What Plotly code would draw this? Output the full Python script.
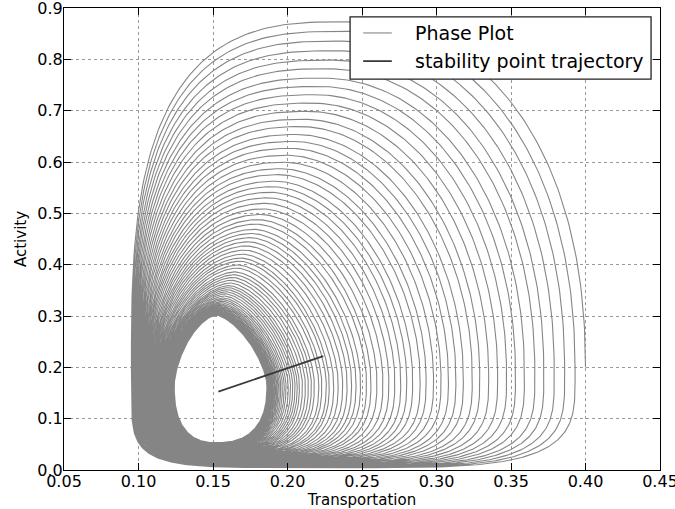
import numpy as np
import plotly.graph_objects as go

# Widest (right-hand) Transportation value of each successive turn of the orbit
turn_right = [
    0.400, 0.393, 0.386, 0.379, 0.372, 0.366, 0.359, 0.353, 0.347,
    0.341, 0.335, 0.329, 0.324, 0.318, 0.313, 0.308, 0.303, 0.298,
    0.293, 0.289, 0.284, 0.280, 0.276, 0.272, 0.268, 0.264, 0.260, 0.256, 0.253, 0.249,
    0.246, 0.243, 0.240, 0.237, 0.234, 0.231, 0.228, 0.226, 0.223, 0.221, 0.218, 0.216,
    0.214, 0.212, 0.210, 0.208, 0.2065, 0.205, 0.2035, 0.202, 0.2005, 0.199, 0.1978,
    0.1966, 0.1955, 0.1945, 0.1936, 0.1928, 0.192, 0.1913, 0.1906, 0.190, 0.1895,
    0.189, 0.1886, 0.1882, 0.1878, 0.1875, 0.1872, 0.1869, 0.1867, 0.1865, 0.1863, 0.1862,
]

# Extents of the outermost turn and of the limit cycle the orbit settles onto
# (left, right, bottom, top, x of top/bottom, y of left/right)
outer_turn = [0.095, 0.400, 0.004, 0.878, 0.240, 0.200]
limit_cycle = [0.125, 0.186, 0.055, 0.301, 0.152, 0.165]
# squareness of each quadrant: top-right, top-left, bottom-left, bottom-right
outer_shape = [2.2, 3.0, 6.0, 4.0]
limit_shape = [1.5, 1.6, 2.5, 2.5]

# Drift of the stability point
stability_x = [0.1536, 0.224]
stability_y = [0.1526, 0.222]

legend_labels = ["Phase Plot", "stability point trajectory"]
phase_color = "#858585"
stab_color = "#3a3a3a"


def orbit(turns, outer, inner, n_out, n_in, pts=360):
    outer = np.array(outer)
    inner = np.array(inner)
    n_out = np.array(n_out)
    n_in = np.array(n_in)
    frac = (np.array(turns) - inner[1]) / (outer[1] - inner[1])
    xs, ys = [], []
    theta = np.linspace(0.0, 2 * np.pi, pts, endpoint=False)
    for i in range(len(frac) - 1):
        f = frac[i] + (frac[i + 1] - frac[i]) * theta / (2 * np.pi)
        f = np.clip(f, 0, 1)
        # left and bottom sides hug the outer edge longer than right and top
        g = np.sqrt(f)
        w = np.vstack([g, f, g, f, f, f])
        p = inner[:, None] + w * (outer - inner)[:, None]
        n = n_in[:, None] + f[None, :] * (n_out - n_in)[:, None]
        left, right, bottom, top, xc, yc = p
        u, v = np.cos(theta), np.sin(theta)
        q = np.where(v >= 0, np.where(u >= 0, 0, 1), np.where(u < 0, 2, 3))
        nq = n[q, np.arange(len(theta))]
        ex = np.sign(u) * np.abs(u) ** (2.0 / nq)
        ey = np.sign(v) * np.abs(v) ** (2.0 / nq)
        xs.append(xc + np.where(ex >= 0, right - xc, xc - left) * ex)
        ys.append(yc + np.where(ey >= 0, top - yc, yc - bottom) * ey)
    return np.concatenate(xs), np.concatenate(ys)


px, py = orbit(turn_right, outer_turn, limit_cycle, outer_shape, limit_shape)

fig = go.Figure()
fig.add_trace(go.Scatter(
    x=px, y=py, mode="lines", name=legend_labels[0],
    line=dict(color=phase_color, width=1.1), showlegend=False,
))
fig.add_trace(go.Scatter(
    x=stability_x, y=stability_y, mode="lines", name=legend_labels[1],
    line=dict(color=stab_color, width=1.8), showlegend=False,
))

axis_common = dict(
    showline=True, linecolor="black", linewidth=1.2, mirror="ticks",
    ticks="inside", ticklen=7, tickwidth=1, tickcolor="black",
    showgrid=True, gridcolor="#9a9a9a", gridwidth=1, griddash="dot",
    zeroline=False, tickfont=dict(size=16, color="black"),
    automargin=False, ticklabeloverflow="allow", ticklabelstandoff=-3,
)

# Boxed key in the upper right corner, in paper units
box = dict(x0=0.480, x1=0.985, y0=0.846, y1=0.981)
rows = [0.946, 0.885]
sample = (0.502, 0.550)
text_x = 0.586

fig.add_shape(type="rect", xref="paper", yref="paper", layer="above",
              line=dict(color="#222", width=1.3), fillcolor="white", **box)
for yrow, color, width, label in zip(rows, [phase_color, stab_color], [1.1, 1.8], legend_labels):
    fig.add_shape(type="line", xref="paper", yref="paper", layer="above",
                  x0=sample[0], x1=sample[1], y0=yrow, y1=yrow,
                  line=dict(color=color, width=width))
    fig.add_annotation(xref="paper", yref="paper", x=text_x, y=yrow,
                       xanchor="left", yanchor="middle", showarrow=False,
                       text=label, font=dict(size=19, color="black"))

fig.update_layout(
    width=675, height=509,
    margin=dict(l=64, r=15, t=8, b=39),
    paper_bgcolor="white", plot_bgcolor="white",
    font=dict(family="DejaVu Sans", color="black"),
    xaxis=dict(range=[0.05, 0.45], dtick=0.05, tick0=0.05, tickformat=".2f",
               title=dict(text="Transportation", font=dict(size=15), standoff=2),
               **axis_common),
    yaxis=dict(range=[0, 0.9], dtick=0.1, tickformat=".1f",
               title=dict(text="Activity", font=dict(size=15), standoff=6),
               **axis_common),
    showlegend=False,
)

fig.write_html("out.html")
